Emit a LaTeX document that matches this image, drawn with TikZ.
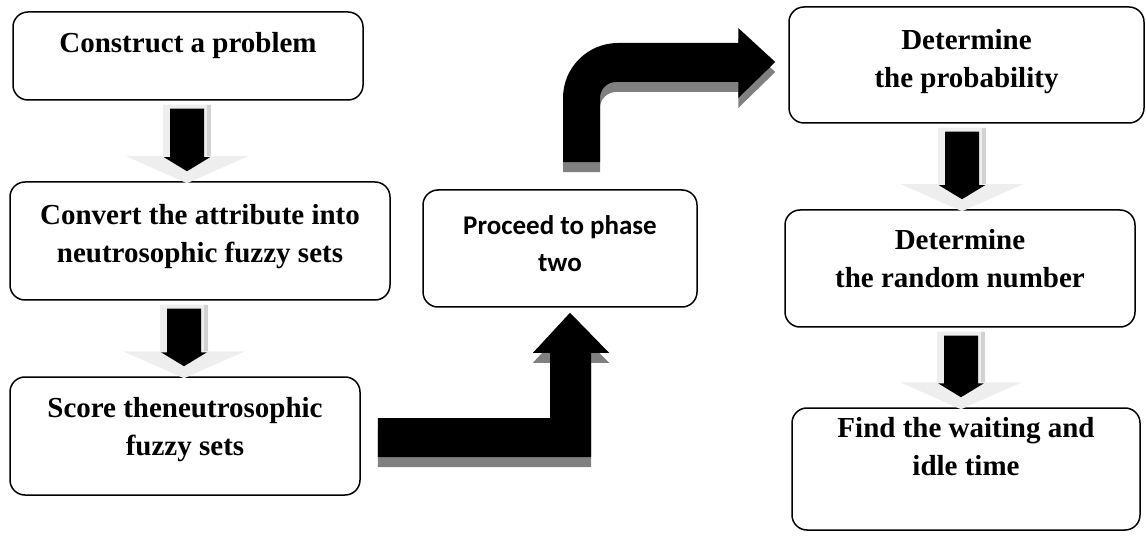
\documentclass[tikz,border=0pt]{standalone}
\usepackage{fontspec}
\setmainfont{Liberation Serif}
\newfontfamily\calibri{Carlito}
\usetikzlibrary{calc}
\tikzset{stepbox/.style={draw, line width=1.5pt, rounded corners=15pt, fill=white, inner sep=0pt},
  steptext/.style={inner sep=0pt, align=center, font=\bfseries\fontsize{29}{38}\selectfont},
  phasetext/.style={inner sep=0pt, align=center, font=\calibri\bfseries\fontsize{27}{37}\selectfont}}

% hollow grey arrow with a black one inside, from box #1 down to box #2 at x=#3
\newcommand{\blockdown}[3]{%
  \path[fill=gray!13] let \p1=(#1.south), \p2=(#2.north) in
    ({#3pt-24pt},{\y1-4pt}) -- ({#3pt+24pt},{\y1-4pt}) -- ({#3pt+24pt},{\y2+25pt})
    -- ({#3pt+61pt},{\y2+25pt}) -- (#3pt,{\y2-2pt}) -- ({#3pt-61pt},{\y2+25pt})
    -- ({#3pt-24pt},{\y2+25pt}) -- cycle;
  \path[fill=gray!35] let \p1=(#1.south), \p2=(#2.north) in
    ({#3pt+20pt},{\y1-4pt}) rectangle ({#3pt+24pt},{\y2+25pt});
  \path[fill=black] let \p1=(#1.south), \p2=(#2.north) in
    ({#3pt-17pt},{\y1-8pt}) -- ({#3pt+17pt},{\y1-8pt}) -- ({#3pt+17pt},{\y2+24pt})
    -- ({#3pt+23pt},{\y2+24pt}) -- (#3pt,{\y2+10pt}) -- ({#3pt-23pt},{\y2+24pt})
    -- ({#3pt-17pt},{\y2+24pt}) -- cycle;
}

\begin{document}
\begin{tikzpicture}[x=1pt,y=-1pt]
  \useasboundingbox (0,0) rectangle (1146,537);
  % phase one
  \node[stepbox, minimum width=350, minimum height=88] (construct) at (188,56)
    [label={[steptext, name=construct-t, anchor=north, yshift=-21pt]north:Construct a problem}] {};
  \node[stepbox, minimum width=380, minimum height=118] (convert) at (200,241)
    [label={[steptext, name=convert-t, anchor=north, yshift=-23pt]north:Convert the attribute into\\neutrosophic fuzzy sets}] {};
  \node[stepbox, minimum width=350, minimum height=118] (score) at (185,436)
    [label={[steptext, name=score-t, anchor=north, yshift=-21pt]north:Score theneutrosophic\\fuzzy sets}] {};
  \node[stepbox, minimum width=274, minimum height=117] (proceed) at (560,248.5)
    [label={[phasetext, name=proceed-t, anchor=north, yshift=-26pt]north:Proceed to phase\\two}] {};
  % phase two
  \node[stepbox, minimum width=355, minimum height=116] (prob) at (966.5,65)
    [label={[steptext, name=prob-t, anchor=north, yshift=-23pt]north:Determine\\the probability}] {};
  \node[stepbox, minimum width=350, minimum height=117] (random) at (960,268.5)
    [label={[steptext, name=random-t, anchor=north, yshift=-20pt]north:Determine\\the random number}] {};
  \node[stepbox, minimum width=348, minimum height=122] (wait) at (966,469)
    [label={[steptext, name=wait-t, anchor=north, yshift=-10pt]north:Find the waiting and\\idle time}] {};

  \blockdown{construct}{convert}{187}
  \blockdown{convert}{score}{184}
  \blockdown{prob}{random}{962}
  \blockdown{random}{wait}{961}

  % bent arrows, shadow first
  \foreach \dy/\col in {10pt/black!50, 0pt/black}{
    \path[fill=\col] let \p1=(score.east), \p2=(proceed.south) in
      ({\x1+17pt},{\y1+18pt-\dy}) -- ({\x2-10pt},{\y1+18pt-\dy}) -- ({\x2-10pt},{\y2-45pt-\dy})
      -- ({\x2-27pt},{\y2-45pt-\dy}) -- ({\x2+10pt},{\y2-5pt-\dy}) -- ({\x2+49pt},{\y2-45pt-\dy})
      -- ({\x2+31pt},{\y2-45pt-\dy}) -- ({\x2+31pt},{\y1-21pt-\dy}) -- ({\x1+17pt},{\y1-21pt-\dy}) -- cycle;
    \path[fill=\col] let \p1=(proceed.north), \p2=(prob.west) in
      ({\x1+3pt},{\y1+27pt-\dy}) -- ({\x1+3pt},{\y2+22pt-55pt-\dy})
      arc[start angle=180, end angle=90, radius=55pt]
      -- ({\x2-50pt},{\y2+22pt-\dy}) -- ({\x2-50pt},{\y2+37pt-\dy}) -- ({\x2-13pt},{\y2+3pt-\dy})
      -- ({\x2-50pt},{\y2-33pt-\dy}) -- ({\x2-50pt},{\y2-17pt-\dy}) -- ({\x1+56pt},{\y2-17pt-\dy})
      arc[start angle=90, end angle=180, radius=16pt]
      -- ({\x1+40pt},{\y1+27pt-\dy}) -- cycle;
  }
\end{tikzpicture}
\end{document}
